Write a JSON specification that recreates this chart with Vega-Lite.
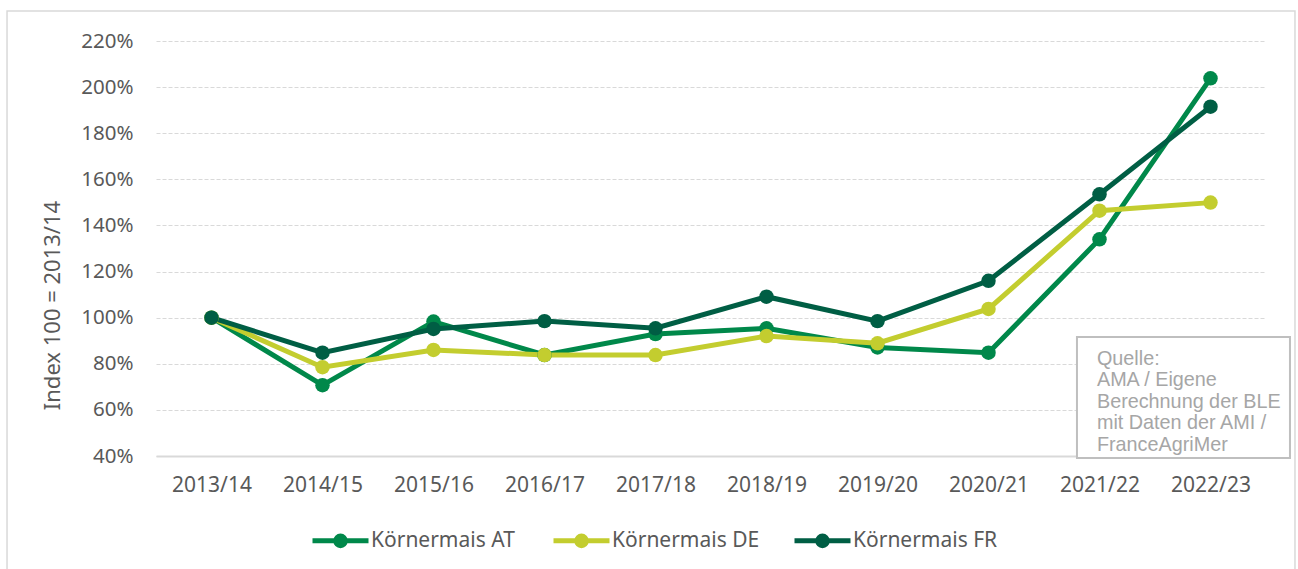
{
  "$schema": "https://vega.github.io/schema/vega-lite/v6.json",
  "width": 1110,
  "height": 415,
  "autosize": {"type": "none"},
  "padding": {"left": 156, "top": 41, "right": 32, "bottom": 113},
  "background": "white",
  "config": {"view": {"stroke": null}, "font": "Noto Sans"},
  "datasets": {
    "series": [
      {"season": "2013/14", "series": "Körnermais AT", "value": 100},
      {"season": "2014/15", "series": "Körnermais AT", "value": 70.7},
      {"season": "2015/16", "series": "Körnermais AT", "value": 98.3},
      {"season": "2016/17", "series": "Körnermais AT", "value": 83.8},
      {"season": "2017/18", "series": "Körnermais AT", "value": 92.9},
      {"season": "2018/19", "series": "Körnermais AT", "value": 95.4},
      {"season": "2019/20", "series": "Körnermais AT", "value": 87.1},
      {"season": "2020/21", "series": "Körnermais AT", "value": 84.8},
      {"season": "2021/22", "series": "Körnermais AT", "value": 134},
      {"season": "2022/23", "series": "Körnermais AT", "value": 203.8},
      {"season": "2013/14", "series": "Körnermais DE", "value": 100},
      {"season": "2014/15", "series": "Körnermais DE", "value": 78.5},
      {"season": "2015/16", "series": "Körnermais DE", "value": 86},
      {"season": "2016/17", "series": "Körnermais DE", "value": 83.8},
      {"season": "2017/18", "series": "Körnermais DE", "value": 83.8},
      {"season": "2018/19", "series": "Körnermais DE", "value": 92},
      {"season": "2019/20", "series": "Körnermais DE", "value": 88.9},
      {"season": "2020/21", "series": "Körnermais DE", "value": 103.8},
      {"season": "2021/22", "series": "Körnermais DE", "value": 146.4},
      {"season": "2022/23", "series": "Körnermais DE", "value": 149.9},
      {"season": "2013/14", "series": "Körnermais FR", "value": 100},
      {"season": "2014/15", "series": "Körnermais FR", "value": 84.8},
      {"season": "2015/16", "series": "Körnermais FR", "value": 95.1},
      {"season": "2016/17", "series": "Körnermais FR", "value": 98.5},
      {"season": "2017/18", "series": "Körnermais FR", "value": 95.4},
      {"season": "2018/19", "series": "Körnermais FR", "value": 109.1},
      {"season": "2019/20", "series": "Körnermais FR", "value": 98.5},
      {"season": "2020/21", "series": "Körnermais FR", "value": 116},
      {"season": "2021/22", "series": "Körnermais FR", "value": 153.5},
      {"season": "2022/23", "series": "Körnermais FR", "value": 191.5}
    ],
    "frame": [{"x1": -1.342, "x2": 10.261, "value": 233.0, "value2": -12}],
    "box": [{"x1": 8.297, "x2": 10.216, "value": 91.61, "value2": 39.13}],
    "source": [{"x": 8.477, "value": 79.47, "txt": ["Quelle:", "AMA / Eigene", "Berechnung der BLE", "mit Daten der AMI /", "FranceAgriMer"]}]
  },
  "encoding": {
    "y": {
      "field": "value", "type": "quantitative",
      "scale": {"domain": [40, 220], "nice": false, "zero": false},
      "axis": {
        "values": [40, 60, 80, 100, 120, 140, 160, 180, 200, 220],
        "labelExpr": "datum.value + '%'",
        "ticks": false, "domain": false, "labelPadding": 23,
        "labelFontSize": 20.5, "labelColor": "#595959", "labelFont": "Noto Sans",
        "grid": true, "gridColor": "#D9D9D9", "gridDash": [4, 2], "gridWidth": 1,
        "title": "Index 100 = 2013/14", "titleFont": "Noto Sans", "titleFontSize": 22,
        "titleFontWeight": "normal", "titleColor": "#595959",
        "titleAngle": 270, "titleAlign": "center", "titleBaseline": "middle",
        "titleX": -104, "titleY": 264
      }
    }
  },
  "layer": [
    {
      "data": {"name": "frame"},
      "mark": {"type": "rect", "fill": null, "stroke": "#D9D9D9", "strokeWidth": 1.5},
      "encoding": {
        "x": {"field": "x1", "type": "quantitative", "scale": {"domain": [0, 10], "nice": false, "zero": false}, "axis": null},
        "x2": {"field": "x2"},
        "y2": {"field": "value2"}
      }
    },
    {
      "data": {"name": "series"},
      "mark": {"type": "line", "strokeWidth": 5, "point": {"filled": true, "size": 210, "opacity": 1}},
      "encoding": {
        "x": {
          "field": "season", "type": "nominal", "sort": null,
          "scale": {"type": "point", "padding": 0.5},
          "axis": {
            "title": null, "ticks": false, "labelAngle": 0, "labelPadding": 18,
            "labelFontSize": 21, "labelColor": "#595959", "labelFont": "Noto Sans",
            "domainColor": "#D9D9D9", "domainWidth": 2, "grid": false
          }
        },
        "color": {
          "field": "series", "type": "nominal",
          "scale": {"domain": ["Körnermais AT", "Körnermais DE", "Körnermais FR"], "range": ["#00884A", "#C3CD2F", "#005E44"]},
          "legend": {
            "title": null, "orient": "none", "direction": "horizontal",
            "legendX": 154, "legendY": 469,
            "symbolType": "M-1,0H1M0.17,0A0.17,0.17,0,1,1,-0.17,0A0.17,0.17,0,1,1,0.17,0Z",
            "symbolSize": 3136, "symbolStrokeWidth": 5,
            "labelFont": "Noto Sans", "labelFontSize": 21, "labelColor": "#595959",
            "labelOffset": 0, "columnPadding": 24, "gridAlign": "all",
            "encode": {"symbols": {"update": {"fill": {"scale": "color", "field": "value"}, "opacity": {"value": 1}}}}
          }
        }
      }
    },
    {
      "data": {"name": "box"},
      "mark": {"type": "rect", "fill": "white", "stroke": "#BFBFBF", "strokeWidth": 2},
      "encoding": {
        "x": {"field": "x1", "type": "quantitative", "scale": {"domain": [0, 10], "nice": false, "zero": false}, "axis": null},
        "x2": {"field": "x2"},
        "y2": {"field": "value2"}
      }
    },
    {
      "data": {"name": "source"},
      "mark": {"type": "text", "align": "left", "baseline": "alphabetic", "font": "Liberation Sans", "fontSize": 19.8, "lineHeight": 21.5, "color": "#A6A6A6"},
      "encoding": {
        "x": {"field": "x", "type": "quantitative", "scale": {"domain": [0, 10], "nice": false, "zero": false}, "axis": null},
        "text": {"field": "txt"}
      }
    }
  ],
  "resolve": {"scale": {"x": "independent"}}
}
